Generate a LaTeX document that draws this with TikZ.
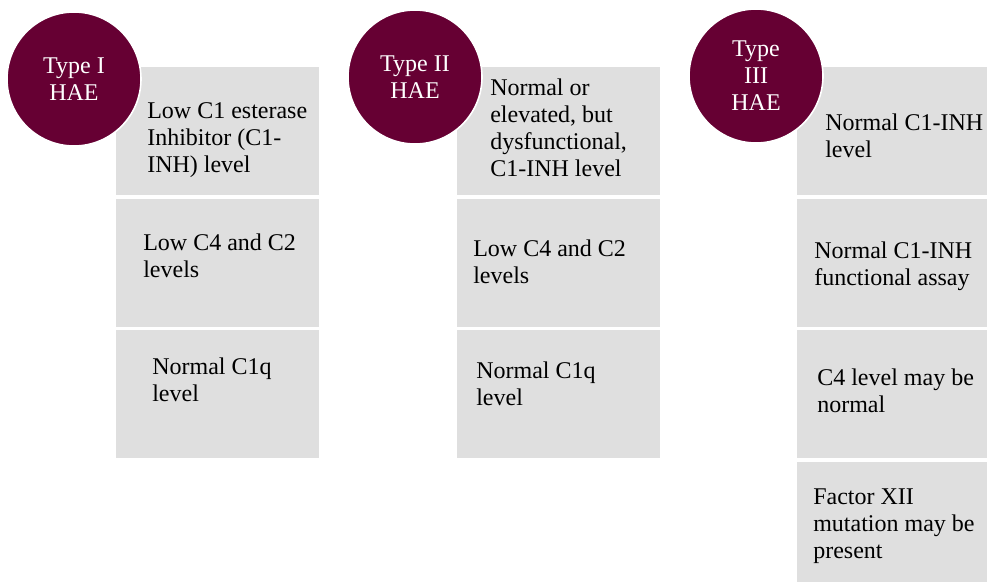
\documentclass[tikz,border=0pt]{standalone}
\usepackage{fontspec}
\setmainfont{Liberation Serif}
\usepackage{tikz}
\usetikzlibrary{positioning}
\definecolor{haered}{RGB}{102,0,51}
\definecolor{cellgray}{RGB}{223,223,223}

\begin{document}
\begin{tikzpicture}[x=0.75pt,y=-0.75pt,node distance=2.25pt, cell/.style={fill=cellgray,anchor=north west,inner sep=0pt,minimum height=96pt}, wide/.style={cell,minimum width=152pt}, narrow/.style={cell,minimum width=142.5pt}, badge/.style={circle,fill=haered,draw=white,line width=1.2pt,minimum size=100.5pt,inner sep=0pt,align=center,text=white,font=\fontsize{18pt}{20.25pt}\selectfont}, txt/.style={anchor=base west,inner sep=0pt,align=left,font=\fontsize{18pt}{20.25pt}\selectfont}]
\useasboundingbox (0,0) rectangle (987,581);
% grey cells, one column per type
\node[wide] (c1a) at (116,67) {};
\node[wide,below=of c1a] (c1b) {};
\node[wide,below=of c1b] (c1c) {};
\node[wide] (c2a) at (457,67) {};
\node[wide,below=of c2a] (c2b) {};
\node[wide,below=of c2b] (c2c) {};
\node[narrow] (c3a) at (797,67) {};
\node[narrow,below=of c3a] (c3b) {};
\node[narrow,below=of c3b] (c3c) {};
\node[narrow,below=of c3c] (c3d) {};
% type badges
\node[badge] (type1) at (74,79) {Type I\\HAE};
\node[badge] (type2) at (415,77) {Type II\\HAE};
\node[badge] (type3) at (756,76) {Type\\III\\HAE};
% cell texts (placed at the baseline of the last line)
\node[txt] (t1a) at (147,172) {Low C1 esterase\\Inhibitor (C1-\\INH) level};
\node[txt] (t1b) at (143,277) {Low C4 and C2\\levels};
\node[txt] (t1c) at (152,401) {Normal C1q\\level};
\node[txt] (t2a) at (490,176) {Normal or\\elevated, but\\dysfunctional,\\C1-INH level};
\node[txt] (t2b) at (473,283) {Low C4 and C2\\levels};
\node[txt] (t2c) at (476,405) {Normal C1q\\level};
\node[txt] (t3a) at (825,157) {Normal C1-INH\\level};
\node[txt] (t3b) at (814,285) {Normal C1-INH\\functional assay};
\node[txt] (t3c) at (817,412) {C4 level may be\\normal};
\node[txt] (t3d) at (813,558) {Factor XII\\mutation may be\\present};
\end{tikzpicture}
\end{document}
